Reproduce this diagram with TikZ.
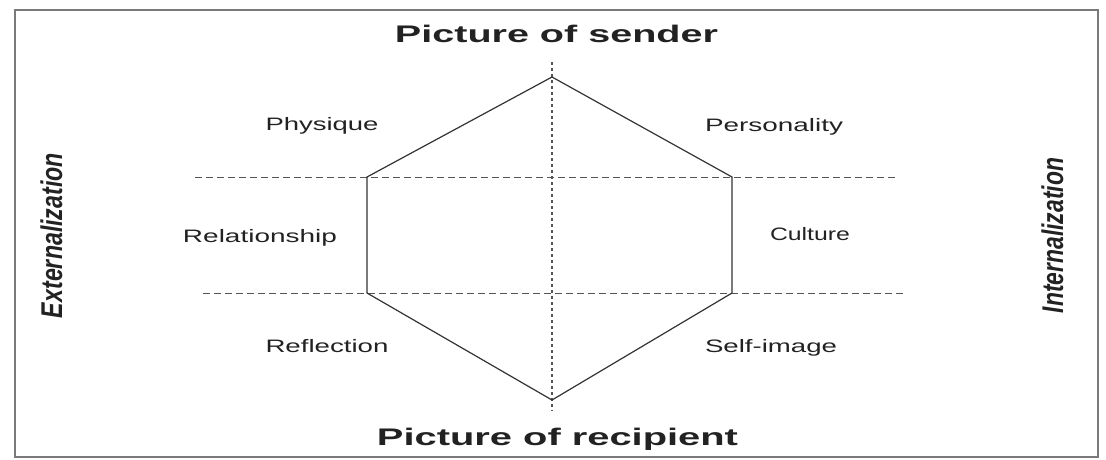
\documentclass[tikz,border=0pt]{standalone}
\usepackage{fontspec}
\setmainfont{Liberation Sans}
\usepackage{graphicx}
\definecolor{ink}{HTML}{222222}
\definecolor{lineink}{HTML}{333333}
\definecolor{dashink}{HTML}{555555}
\definecolor{frameink}{HTML}{7A7A7A}
\newcommand{\fitw}[2]{\resizebox{#1}{\height}{#2}}
\begin{document}
\begin{tikzpicture}[x=1pt,y=-1pt,
  label/.style={inner sep=0pt,anchor=base,text=ink,font=\fontsize{18}{18}\selectfont},
  title/.style={inner sep=0pt,anchor=base,text=ink,font=\fontsize{24}{24}\selectfont\bfseries},
  side/.style={inner sep=0pt,rotate=90,text=ink,font=\fontsize{30}{30}\selectfont\bfseries\itshape},
  hexline/.style={draw=lineink,line width=1.2pt,line join=miter},
  guide/.style={draw=dashink,line width=1pt,dash pattern=on 7pt off 4pt},
  axis/.style={draw=dashink,line width=1.2pt,dash pattern=on 3pt off 3pt},
  frame/.style={draw=frameink,line width=1.5pt}]
\useasboundingbox (0,0) rectangle (1106,459);
\fill[white] (0,0) rectangle (1106,459);
\draw[frame] (15,10) rectangle (1098,457);

% hexagon vertices
\coordinate (T) at (552,77);
\coordinate (UR) at (732,177);
\coordinate (LR) at (732,293);
\coordinate (B) at (552,400);
\coordinate (LL) at (367,293);
\coordinate (UL) at (367,177);
% guide ends
\coordinate (h1a) at (195,177);
\coordinate (h1b) at (895,177);
\coordinate (h2a) at (203,293);
\coordinate (h2b) at (905,293);
\coordinate (va) at (552,62);
\coordinate (vb) at (552,411);

\draw[guide] (h1a) -- (h1b);
\draw[guide] (h2a) -- (h2b);
\draw[axis] (va) -- (vb);
\draw[hexline] (T) -- (UR) -- (LR) -- (B) -- (LL) -- (UL) -- cycle;

\node[title] (sender) at (556.5,42) {\fitw{323pt}{Picture of sender}};
\node[title] (recip) at (557.5,445) {\fitw{361pt}{Picture of recipient}};

\node[label] (phys) at (322,130) {\fitw{113pt}{Physique}};
\node[label] (pers) at (774,131) {\fitw{138pt}{Personality}};
\node[label] (rel) at (260,242) {\fitw{154pt}{Relationship}};
\node[label] (cult) at (810,240) {\fitw{80pt}{Culture}};
\node[label] (refl) at (327,352) {\fitw{123pt}{Reflection}};
\node[label] (self) at (771,352) {\fitw{132pt}{Self-image}};

\node[side] (ext) at (51.5,235.5) {\fitw{165pt}{Externalization}};
\node[side] (int) at (1052.5,235.5) {\fitw{155pt}{Internalization}};
\end{tikzpicture}
\end{document}
